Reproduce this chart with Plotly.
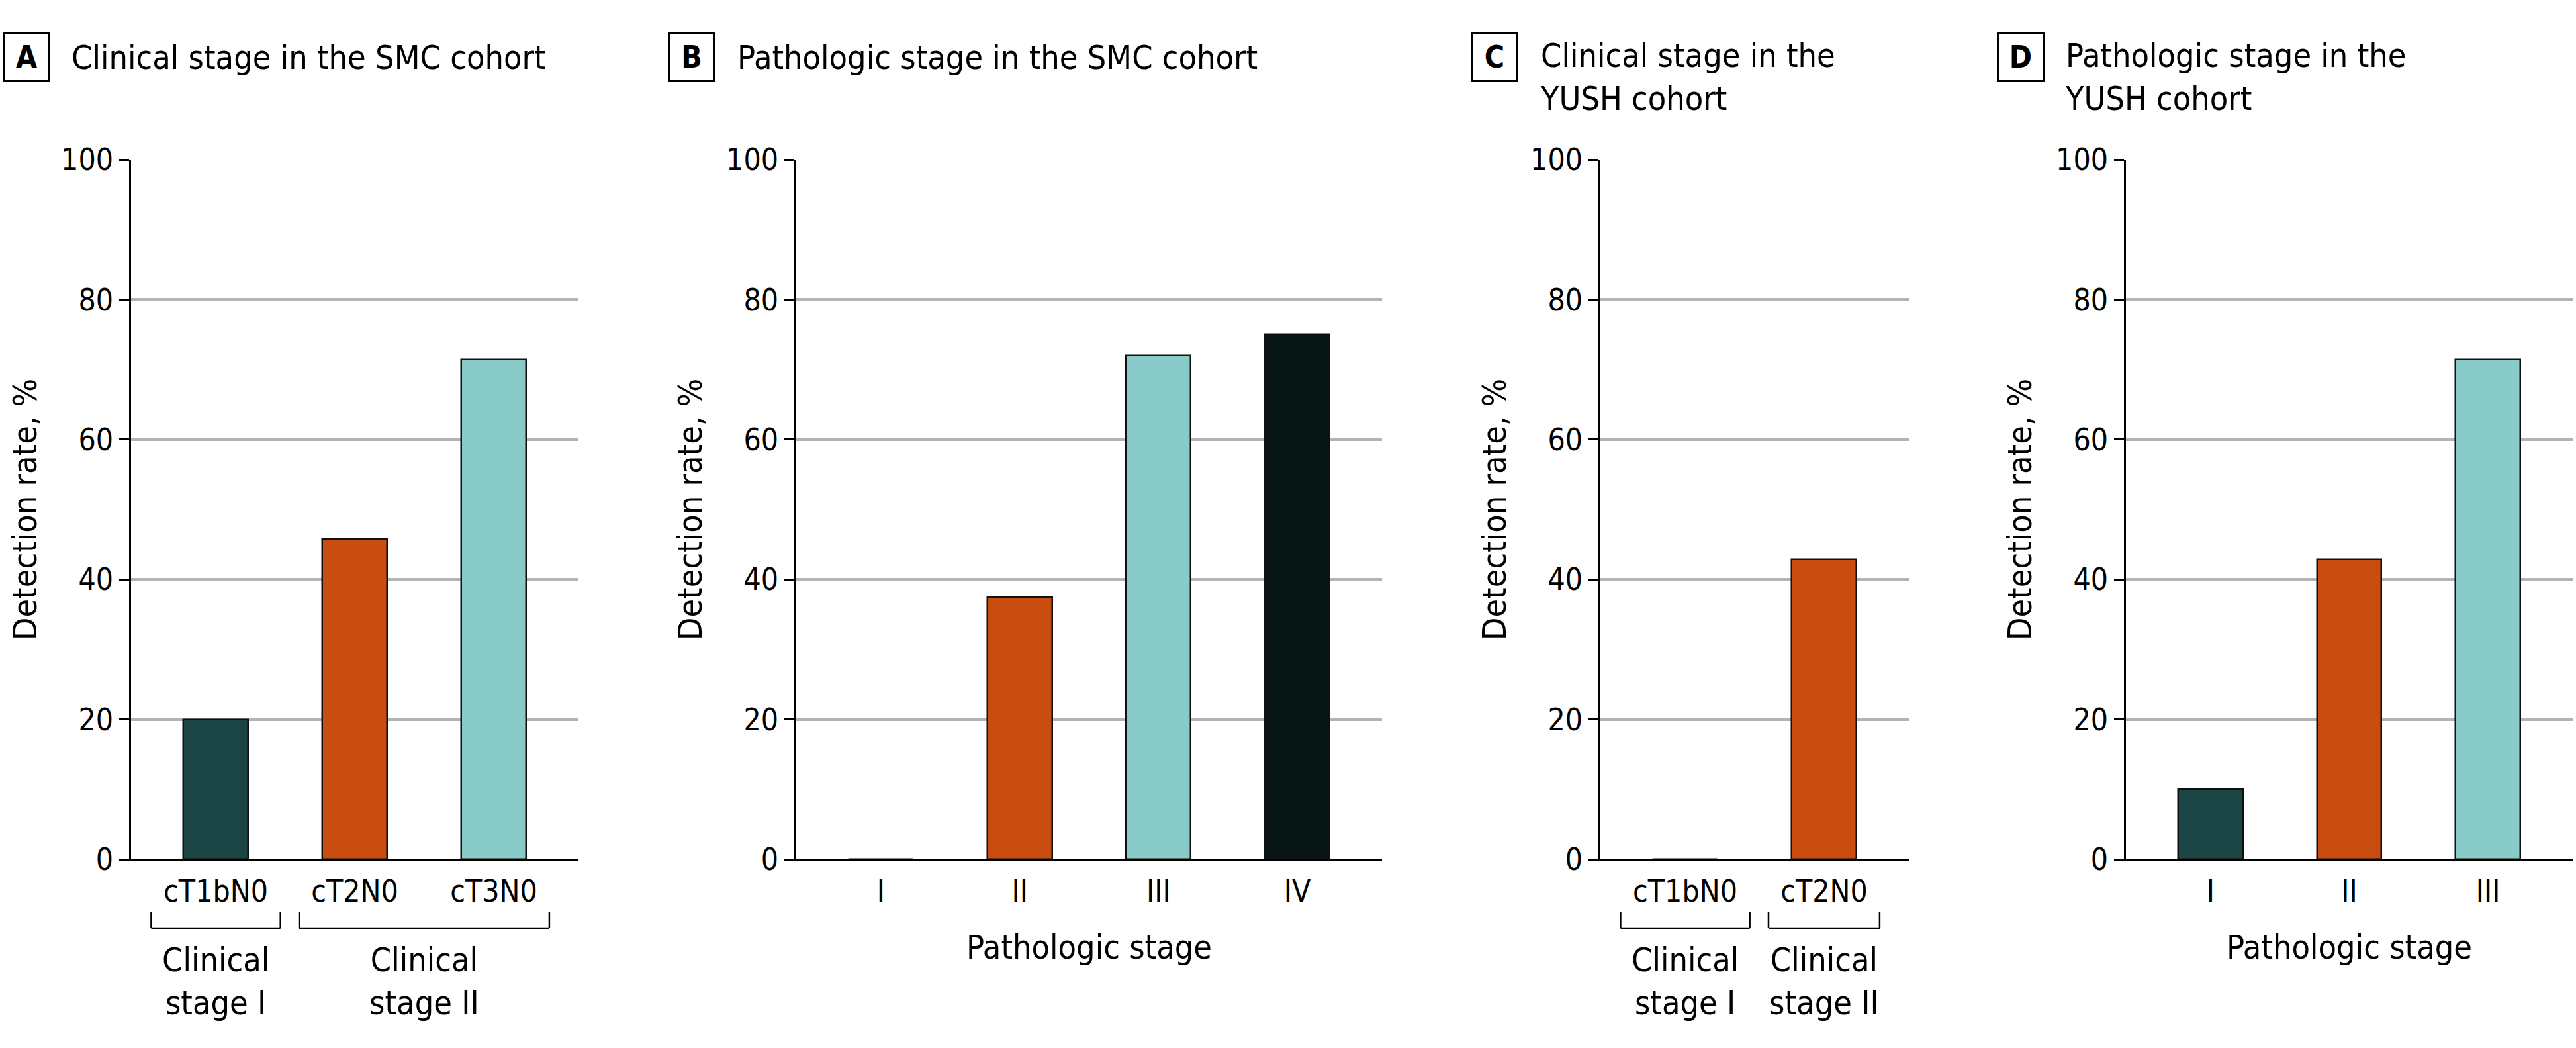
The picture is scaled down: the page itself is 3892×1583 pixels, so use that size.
import plotly.graph_objects as go

W, H = 3892, 1583
FONT = "DejaVu Sans Condensed, DejaVu Sans, Liberation Sans Narrow, sans-serif"

# ---------------- data ----------------
a_categories = ["cT1bN0", "cT2N0", "cT3N0"]
a_values = [20.0, 45.8, 71.4]
b_categories = ["I", "II", "III", "IV"]
b_values = [0.0, 37.5, 72.0, 75.0]
c_categories = ["cT1bN0", "cT2N0"]
c_values = [0.0, 42.9]
d_categories = ["I", "II", "III"]
d_values = [10.0, 42.9, 71.4]

panel_letters = ["A", "B", "C", "D"]
panel_titles = [
    "Clinical stage in the SMC cohort",
    "Pathologic stage in the SMC cohort",
    "Clinical stage in the<br>YUSH cohort",
    "Pathologic stage in the<br>YUSH cohort",
]
y_title = "Detection rate, %"
x_title_path = "Pathologic stage"
y_tick_values = [0, 20, 40, 60, 80, 100]
a_groups = [("Clinical<br>stage I", 0, 0), ("Clinical<br>stage II", 1, 2)]
c_groups = [("Clinical<br>stage I", 0, 0), ("Clinical<br>stage II", 1, 1)]

# ---------------- style ----------------
DARK = "#1B4444"
ORANGE = "#C94D10"
LIGHT = "#88CBC9"
BLACK = "#081616"
a_colors = [DARK, ORANGE, LIGHT]
b_colors = [DARK, ORANGE, LIGHT, BLACK]
c_colors = [DARK, ORANGE]
d_colors = [DARK, ORANGE, LIGHT]

TICK_FS = 46
LABEL_FS = 50
TITLE_FS = 50

def px_x(x):
    return x / W

def px_y(y):
    return 1 - y / H

Y_TOP, Y_BOT = 241, 1298
panel_geom = [
    dict(x0=198, x1=874, box_cx=40, title_x=106),
    dict(x0=1203, x1=2088, box_cx=1045, title_x=1112),
    dict(x0=2418, x1=2884, box_cx=2258, title_x=2325),
    dict(x0=3212, x1=3887, box_cx=3053, title_x=3118),
]
panels = [
    (a_categories, a_values, a_colors, a_groups, None),
    (b_categories, b_values, b_colors, None, x_title_path),
    (c_categories, c_values, c_colors, c_groups, None),
    (d_categories, d_values, d_colors, None, x_title_path),
]
PAD = 0.61
BAR_W = 0.467

fig = go.Figure()
annotations = []
shapes = []

for i, ((cats, vals, cols, groups, xt), g) in enumerate(zip(panels, panel_geom)):
    n = i + 1
    xa = "x" if n == 1 else f"x{n}"
    ya = "y" if n == 1 else f"y{n}"
    fig.add_trace(go.Bar(
        x=cats, y=vals, xaxis=xa, yaxis=ya, width=BAR_W,
        marker=dict(color=cols, line=dict(color="#111111", width=2.5)),
        showlegend=False, hoverinfo="x+y",
    ))
    xkey = "xaxis" if n == 1 else f"xaxis{n}"
    ykey = "yaxis" if n == 1 else f"yaxis{n}"
    fig.layout[xkey] = dict(
        domain=[px_x(g["x0"]), px_x(g["x1"])], anchor=ya,
        type="category", categoryorder="array", categoryarray=cats,
        range=[-PAD, len(cats) - 1 + PAD], automargin=False,
        showline=True, linecolor="black", linewidth=2.5,
        ticks="", showgrid=False, zeroline=False,
        tickfont=dict(family=FONT, size=TICK_FS, color="black"),
        ticklabelstandoff=6,
        title=dict(text=xt, font=dict(family=FONT, size=LABEL_FS, color="black"), standoff=42) if xt else None,
        fixedrange=True,
    )
    fig.layout[ykey] = dict(
        domain=[px_y(Y_BOT), px_y(Y_TOP)], anchor=xa,
        range=[0, 100], tickvals=y_tick_values, automargin=False,
        showline=True, linecolor="black", linewidth=2.5,
        ticks="outside", ticklen=15, tickwidth=2.5, tickcolor="black",
        showgrid=True, gridcolor="#B3B3B3", gridwidth=4,
        zeroline=False,
        tickfont=dict(family=FONT, size=TICK_FS, color="black"),
        title=dict(text=y_title, font=dict(family=FONT, size=LABEL_FS, color="black"), standoff=21),
        fixedrange=True,
    )
    # panel letter box
    annotations.append(dict(
        xref="paper", yref="paper", x=px_x(g["box_cx"]), y=px_y(86),
        xanchor="center", yanchor="middle", showarrow=False,
        text=f"<b>{panel_letters[i]}</b>", width=64, height=68,
        bordercolor="black", borderwidth=3, borderpad=1,
        font=dict(family=FONT, size=46, color="black"),
    ))
    # panel title
    two_lines = "<br>" in panel_titles[i]
    annotations.append(dict(
        xref="paper", yref="paper", x=px_x(g["title_x"]), y=px_y(117 if two_lines else 87),
        xanchor="left", yanchor="middle", align="left", showarrow=False,
        text=panel_titles[i],
        font=dict(family=FONT, size=TITLE_FS, color="black"),
    ))
    # group brackets
    if groups:
        for gi, (label, c0, c1) in enumerate(groups):
            pad = 0.465 if gi == 0 else 0.40
            xl, xr = c0 - pad, c1 + pad
            yt, yb = px_y(1377), px_y(1402)
            for (sx0, sy0, sx1, sy1) in [(xl, yt, xl, yb), (xl, yb, xr, yb), (xr, yb, xr, yt)]:
                shapes.append(dict(type="line", xref=xa, yref="paper",
                                   x0=sx0, y0=sy0, x1=sx1, y1=sy1,
                                   line=dict(color="black", width=2.5)))
            annotations.append(dict(
                xref=xa, yref="paper", x=(c0 + c1) / 2, y=px_y(1482),
                xanchor="center", yanchor="middle", align="center", showarrow=False,
                text=label, font=dict(family=FONT, size=LABEL_FS, color="black"),
            ))

fig.update_layout(
    width=W, height=H, autosize=False,
    margin=dict(l=0, r=0, t=0, b=0, pad=0),
    paper_bgcolor="white", plot_bgcolor="white",
    annotations=annotations, shapes=shapes,
    showlegend=False, bargap=0,
    font=dict(family=FONT, color="black"),
)

fig.write_html("out.html")
